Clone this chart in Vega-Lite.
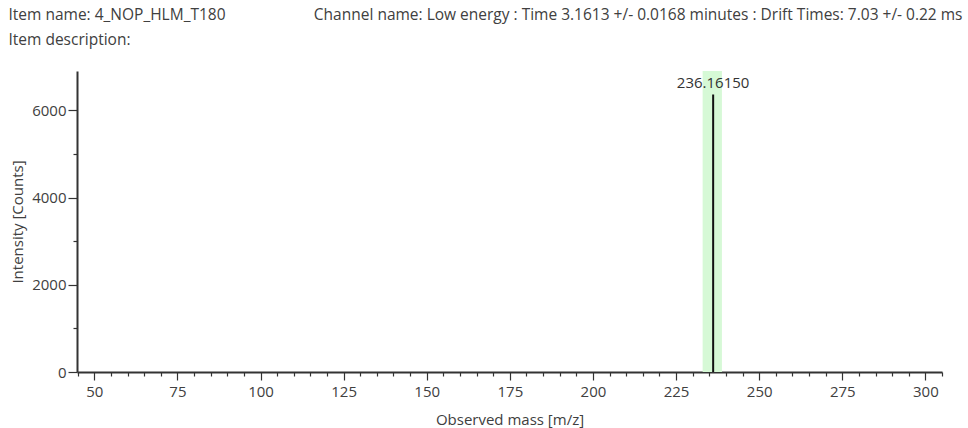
{
  "$schema": "https://vega.github.io/schema/vega-lite/v6.json",
  "autosize": "none",
  "width": 865,
  "height": 301,
  "padding": {"left": 77, "top": 71, "right": 26, "bottom": 56},
  "background": "white",
  "config": {
    "view": {"stroke": null},
    "font": "Open Sans",
    "axis": {"labelFont": "Open Sans", "titleFont": "Open Sans", "labelColor": "#404040", "titleColor": "#404040", "titleFontWeight": "normal", "labelFontSize": 15, "titleFontSize": 15, "domainColor": "#333333", "tickColor": "#333333", "domainWidth": 2, "tickWidth": 1.2, "grid": false}
  },
  "datasets": {
    "band": [{"lo": 233.0, "hi": 238.8}],
    "peaks": [{"mz": 236.1615, "intensity": 6360, "label": "236.16150"}]
  },
  "resolve": {"axis": {"x": "independent"}},
  "layer": [
    {
      "data": {"name": "band"},
      "mark": {"type": "rect", "color": "#d6f9d6"},
      "encoding": {
        "x": {
          "field": "lo", "type": "quantitative",
          "scale": {"domain": [44.8, 305], "nice": false, "zero": false},
          "axis": {
            "orient": "bottom",
            "title": "Observed mass [m/z]",
            "titlePadding": 13,
            "values": [45,50,55,60,65,70,75,80,85,90,95,100,105,110,115,120,125,130,135,140,145,150,155,160,165,170,175,180,185,190,195,200,205,210,215,220,225,230,235,240,245,250,255,260,265,270,275,280,285,290,295,300,305],
            "labelExpr": "datum.value % 25 === 0 ? datum.label : ''",
            "tickSize": {"condition": {"test": "datum.value % 25 === 0", "value": 8}, "value": 4},
            "labelPadding": 4,
            "labelFlush": false,
            "labelOverlap": false
          }
        },
        "x2": {"field": "hi"}
      }
    },
    {
      "data": {"name": "peaks"},
      "mark": {"type": "rule", "color": "#111111", "strokeWidth": 2},
      "encoding": {
        "x": {
          "field": "mz", "type": "quantitative",
          "axis": {
            "orient": "top",
            "title": "Channel name: Low energy : Time 3.1613 +/- 0.0168 minutes : Drift Times: 7.03 +/- 0.22 ms",
            "labels": false, "ticks": false, "domain": false,
            "titleFontSize": 15.5,
            "titleAnchor": "end",
            "titleAlign": "right",
            "titleX": 885,
            "titleY": -57,
            "titleBaseline": "middle"
          }
        },
        "y": {
          "field": "intensity", "type": "quantitative",
          "scale": {"domain": [0, 6900], "nice": false},
          "axis": {
            "title": "Intensity [Counts]",
            "titlePadding": 6,
            "values": [0,500,1000,1500,2000,2500,3000,3500,4000,4500,5000,5500,6000,6500],
            "labelExpr": "datum.value % 2000 === 0 ? datum.label : ''",
            "format": "d",
            "tickSize": {"condition": {"test": "datum.value % 2000 === 0", "value": 9}, "value": 4},
            "labelPadding": 2
          }
        },
        "y2": {"datum": 0}
      }
    },
    {
      "data": {"name": "peaks"},
      "mark": {"type": "text", "dy": -12, "fontSize": 15, "color": "#333333", "font": "Open Sans"},
      "encoding": {
        "x": {
          "field": "mz", "type": "quantitative",
          "axis": {
            "orient": "top",
            "title": ["Item name: 4_NOP_HLM_T180", "Item description:"],
            "labels": false, "ticks": false, "domain": false,
            "titleFontSize": 15.5,
            "titleAnchor": "start",
            "titleAlign": "left",
            "titleX": -69,
            "titleY": -57,
            "titleBaseline": "middle",
            "titleLineHeight": 25
          }
        },
        "y": {"field": "intensity", "type": "quantitative"},
        "text": {"field": "label"}
      }
    }
  ]
}
